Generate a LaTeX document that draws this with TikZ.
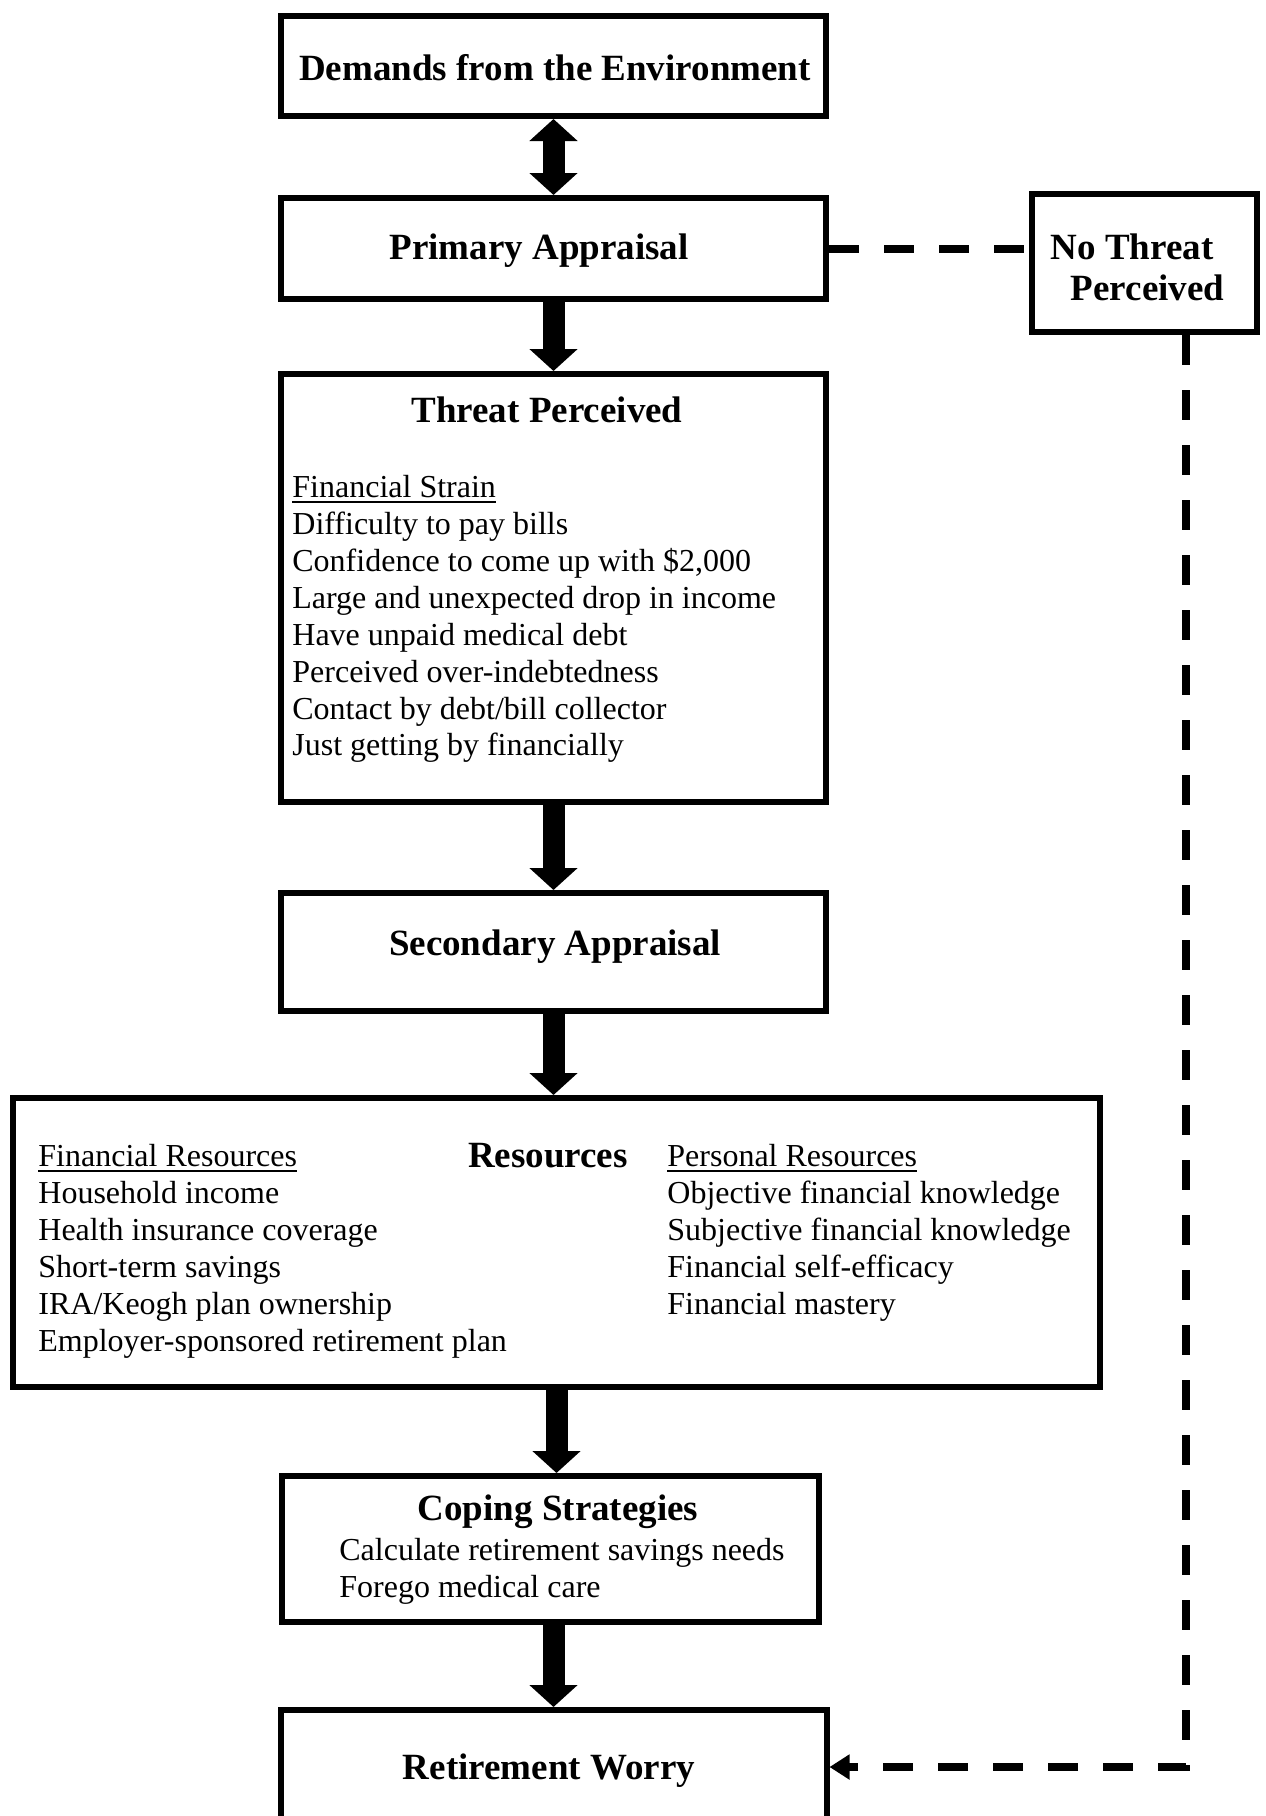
\documentclass[tikz,border=0pt]{standalone}
\usepackage{fontspec}
\setmainfont{Liberation Serif}
\usetikzlibrary{arrows.meta}
\newcommand{\titlefont}{\fontsize{18.5}{20.5}\selectfont\bfseries}
\newcommand{\listfont}{\fontsize{16}{18.45}\selectfont}
\newcommand{\ulword}[1]{\setbox0\hbox{#1}\rlap{\rule[-2.6pt]{\wd0}{0.9pt}}\box0}
\begin{document}
\begin{tikzpicture}[x=0.5pt,y=-0.5pt,
                box/.style={draw,line width=3pt,inner sep=0pt,align=center,font=\titlefont},
                title/.style={anchor=base,inner sep=0pt,font=\titlefont},
                list/.style={anchor=north west,inner sep=0pt,align=left,font=\listfont},
                bigarrow/.style={line width=11pt,-{Triangle[width=23.5pt,length=11pt]}},
                bothways/.style={line width=11pt,{Triangle[width=23.5pt,length=11pt]}-{Triangle[width=23.5pt,length=11pt]}},
                dashline/.style={line width=4pt,dash pattern=on 15pt off 12.5pt}]
                \clip (0,0) rectangle (1265,1816);

                \node[box,minimum width=272.5pt,minimum height=50pt] (demands) at (553.5,66) {};
                \node[title,anchor=center] (demandstitle) at (555,68) {Demands from the Environment};
                \node[box,minimum width=272.5pt,minimum height=50.5pt] (primary) at (553.5,248.5) {};
                \node[title,anchor=center] (primarytitle) at (539,251) {Primary Appraisal};
                \node[box,minimum width=112.5pt,minimum height=69pt] (nothreat) at (1144.5,263) {};
                \node[title,anchor=center,align=left] (nothreattitle) at (1137.5,267) {No Threat\\\hspace*{10pt}Perceived};
                \node[box,minimum width=272.5pt,minimum height=214pt] (threat) at (553.5,588) {};
                \node[title] (threattitle) at (547,422) {Threat Perceived};
                \node[list] (strain) at (292,475) {\ulword{Financial Strain}\\Difficulty to pay bills\\Confidence to come up with \$2,000\\Large and unexpected drop in income\\Have unpaid medical debt\\Perceived over-indebtedness\\Contact by debt/bill collector\\Just getting by financially};
                \node[box,minimum width=272.5pt,minimum height=59pt] (secondary) at (553.5,952) {};
                \node[title,anchor=center] (secondarytitle) at (555,947) {Secondary Appraisal};
                \node[box,minimum width=543.5pt,minimum height=144.5pt] (resources) at (556.5,1242.5) {};
                \node[title] (restitle) at (548,1167) {Resources};
                \node[list] (financial) at (38,1144) {\ulword{Financial Resources}\\Household income\\Health insurance coverage\\Short-term savings\\IRA/Keogh plan ownership\\Employer-sponsored retirement plan};
                \node[list] (personal) at (667,1144) {\ulword{Personal Resources}\\Objective financial knowledge\\Subjective financial knowledge\\Financial self-efficacy\\Financial mastery};
                \node[box,minimum width=268.5pt,minimum height=73pt] (coping) at (550.5,1549) {};
                \node[title] (copingtitle) at (558,1520) {Coping Strategies};
                \node[list] (strategies) at (339,1538) {Calculate retirement savings needs\\Forego medical care};
                \node[box,minimum width=273pt,minimum height=57pt] (worry) at (553.5,1767) {};
                \node[title,anchor=center] (worrytitle) at (549,1771) {Retirement Worry};
                \coordinate (bend) at (1186,1767);

                \draw[bothways] (demands.south) -- (primary.north);
                \draw[bigarrow] (primary.south) -- (threat.north);
                \draw[bigarrow] (threat.south) -- (secondary.north);
                \draw[bigarrow] (secondary.south) -- (secondary.south |- resources.north);
                \draw[bigarrow] (resources.south) -- (resources.south |- coping.north);
                \draw[bigarrow] (worry.north |- coping.south) -- (worry.north);
                \draw[dashline] (primary.east) -- (nothreat.west |- primary.east);
                \draw[dashline,-{Triangle[width=12pt,length=10pt]}] (nothreat.south -| bend) -- (bend) -- (worry.east);
            \end{tikzpicture}
\end{document}
